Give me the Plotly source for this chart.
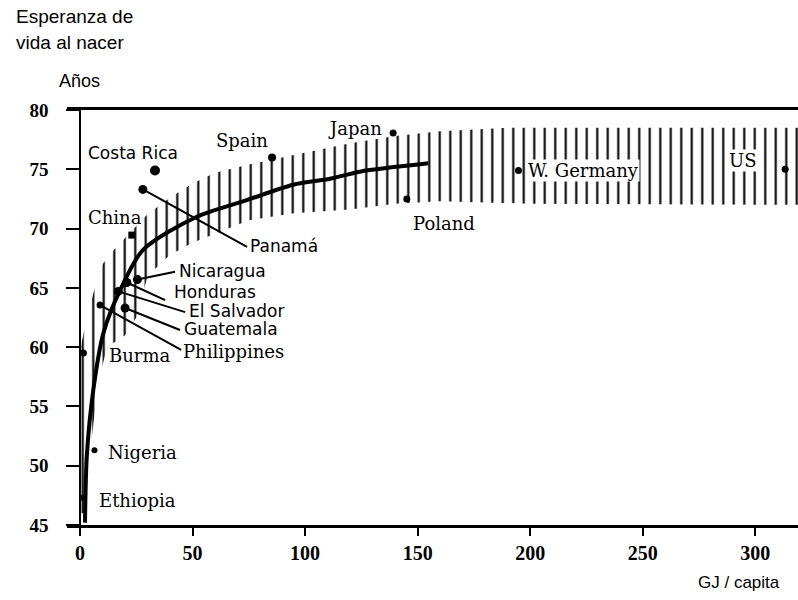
import plotly.graph_objects as go

# ---- data: life expectancy at birth vs. energy use per capita ----
countries = ["Costa Rica", "Panamá", "Spain", "Japan", "Poland", "W. Germany", "US",
             "China", "Nicaragua", "Honduras", "El Salvador", "Guatemala",
             "Philippines", "Burma", "Nigeria", "Ethiopia"]
energy_gj = [33.3, 27.9, 85.3, 139.1, 145.2, 194.8, 313.3,
             23.0, 25.5, 20.8, 17.0, 20.0, 8.9, 1.5, 6.4, 1.2]
life_years = [74.9, 73.3, 76.0, 78.05, 72.5, 74.9, 75.0,
              69.45, 65.7, 65.45, 64.7, 63.3, 63.55, 59.5, 51.3, 47.3]

# fitted trend curve
trend_gj = [2.2, 3.0, 5.9, 10.4, 17.8, 28.0, 51.9, 74.1, 94.7, 111.1, 124.4, 154.8]
trend_years = [45.2, 50.8, 56.4, 61.2, 64.8, 68.2, 71.0, 72.4, 73.7, 74.2, 74.8, 75.5]

# spread band around the trend (upper and lower edges)
band_upper_gj = [0, 0.3, 3, 6, 10, 15, 20, 25, 30, 40, 50, 60, 75, 95, 120, 140, 160, 190, 319]
band_upper_years = [46.5, 60, 62.5, 64.6, 67, 68.2, 69.2, 70.2, 71.2, 72.6, 73.8, 74.7,
                    75.4, 76.2, 77.2, 77.8, 78.2, 78.5, 78.5]
band_lower_gj = [319, 200, 160, 140, 120, 95, 75, 60, 50, 40, 30, 25, 20, 12, 8, 5, 3, 0]
band_lower_years = [72.0, 72.1, 72.3, 72.1, 71.6, 71.3, 70.7, 69.6, 68.8, 67.8, 66.0,
                    62.5, 61.0, 60.0, 57.0, 52.0, 46.0, 46.0]

x_ticks = [0, 50, 100, 150, 200, 250, 300]
y_ticks = [45, 50, 55, 60, 65, 70, 75, 80]

# ---- label placement (data coords) and styling ----
SANS = "DejaVu Sans"
SERIF = "DejaVu Serif"
labels = {
    # name: (label x, label y, font, leader end or None)
    "Costa Rica": (3.1, 76.37, SANS, None),
    "Panamá": (74.2, 68.55, SANS, (74.2, 68.45)),
    "Spain": (60.0, 77.46, SERIF, None),
    "Japan": (109.8, 78.47, SERIF, None),
    "Poland": (147.6, 70.46, SERIF, None),
    "W. Germany": (198.5, 74.93, SERIF, None),
    "US": (288.0, 75.78, SERIF, None),
    "China": (3.1, 70.97, SERIF, None),
    "Nicaragua": (42.6, 66.42, SANS, (42.2, 66.35)),
    "Honduras": (40.6, 64.62, SANS, (37.8, 63.97)),
    "El Salvador": (47.0, 63.09, SANS, (46.7, 62.95)),
    "Guatemala": (44.8, 61.55, SANS, (44.4, 61.45)),
    "Philippines": (44.6, 59.6, SERIF, (44.9, 59.76)),
    "Burma": (12.4, 59.33, SERIF, None),
    "Nigeria": (12.0, 51.15, SERIF, None),
    "Ethiopia": (8.0, 47.1, SERIF, None),
}
dot_size = {"Costa Rica": 10, "Panamá": 9, "Spain": 8, "Japan": 7, "Poland": 7,
            "W. Germany": 7, "US": 7, "China": 7, "Nicaragua": 9, "Honduras": 9,
            "El Salvador": 9, "Guatemala": 9, "Philippines": 7, "Burma": 7,
            "Nigeria": 6, "Ethiopia": 6}
dot_symbol = {"China": "square"}
with_bg = {"W. Germany", "US"}

fig = go.Figure()

# hatched band
fig.add_trace(go.Scatter(
    x=band_upper_gj + band_lower_gj,
    y=band_upper_years + band_lower_years,
    mode="lines", fill="toself", line=dict(width=0, color="rgba(0,0,0,0)"),
    fillcolor="rgba(0,0,0,0)",
    fillpattern=dict(shape="|", size=10.5, solidity=0.2, fgcolor="black",
                     bgcolor="rgba(0,0,0,0)", fgopacity=1),
    hoverinfo="skip", showlegend=False,
))

# leader lines from dots to their labels
lx, ly = [], []
for name, gj, yrs in zip(countries, energy_gj, life_years):
    end = labels[name][3]
    if end is not None:
        lx += [gj, end[0], None]
        ly += [yrs, end[1], None]
fig.add_trace(go.Scatter(x=lx, y=ly, mode="lines",
                         line=dict(color="black", width=2),
                         hoverinfo="skip", showlegend=False))

# trend curve
fig.add_trace(go.Scatter(x=trend_gj, y=trend_years, mode="lines",
                         line=dict(color="black", width=4, shape="spline", smoothing=0.8),
                         hoverinfo="skip", showlegend=False, cliponaxis=False))

# country points
fig.add_trace(go.Scatter(
    x=energy_gj, y=life_years, mode="markers",
    marker=dict(color="black", opacity=1, line=dict(width=0),
                size=[dot_size[c] for c in countries],
                symbol=[dot_symbol.get(c, "circle") for c in countries]),
    text=countries, hoverinfo="text", showlegend=False, cliponaxis=False))

for name in countries:
    x0, y0, font, end = labels[name]
    fig.add_annotation(
        x=x0, y=y0, xref="x", yref="y", text=name, showarrow=False,
        xanchor="left", yanchor="middle", xshift=2 if end is not None else 0,
        font=dict(family=font, size=17 if font == SANS else 18, color="black"),
        bgcolor="white" if name in with_bg else None, borderpad=0,
    )

# plot frame geometry (pixels)
W, H = 798, 600
L, R, T, B = 67, 0, 110, 75
pw, ph = W - L - R, H - T - B


def px(xp, yp):
    return (xp - L) / pw, (H - B - yp) / ph


def note(text, xp, yp, size, family="Liberation Sans"):
    xx, yy = px(xp, yp)
    fig.add_annotation(x=xx, y=yy, xref="paper", yref="paper", text=text,
                       showarrow=False, xanchor="left", yanchor="middle",
                       font=dict(family=family, size=size, color="black"))


note("Esperanza de", 14, 17, 19)
note("vida al nacer", 14, 42, 19)
note("Años", 57, 81, 18)
note("GJ / capita", 696, 582, 17)

fig.update_layout(
    width=W, height=H, margin=dict(l=L, r=R, t=T, b=B),
    paper_bgcolor="white", plot_bgcolor="white",
    xaxis=dict(range=[-5.8, 319], tickvals=x_ticks, ticks="outside", ticklen=8,
               tickwidth=1.5, tickcolor="black", showline=True, linewidth=3,
               linecolor="black", mirror=True, showgrid=False, zeroline=False,
               tickfont=dict(family="Liberation Serif", size=20, color="black",
                             weight="bold")),
    yaxis=dict(range=[45, 80], tickvals=y_ticks, ticks="outside", ticklen=13,
               tickwidth=2, tickcolor="black", showline=True, linewidth=1.5,
               linecolor="black", showgrid=False, zeroline=False,
               anchor="free", position=13 / pw, ticklabelstandoff=14,
               tickfont=dict(family="Liberation Serif", size=19, color="black",
                             weight="bold")),
)

fig.write_html("out.html")
